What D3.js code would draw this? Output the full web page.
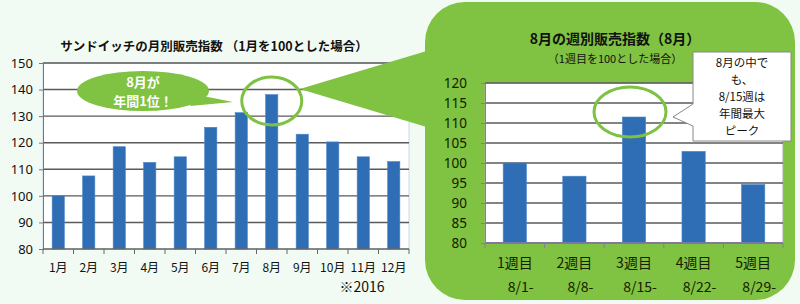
<!DOCTYPE html>
<html><head><meta charset="utf-8">
<script src="https://cdn.jsdelivr.net/npm/d3@7"></script>
<style>
html,body{margin:0;padding:0;background:#f2fbf3;}
svg{display:block;font-family:"Noto Sans CJK JP","Noto Sans",sans-serif;}
</style></head><body>
<svg id="c" width="800" height="304"></svg>
<script>
const months = ["1月","2月","3月","4月","5月","6月","7月","8月","9月","10月","11月","12月"];
const monthValues = [100,107.5,118.5,112.6,114.7,125.8,131.3,138.1,123.2,120.3,114.7,112.9];
const monthTicks = [80,90,100,110,120,130,140,150];
const weeks = ["1週目","2週目","3週目","4週目","5週目"];
const weekDates = ["8/1-","8/8-","8/15-","8/22-","8/29-"];
const weekValues = [100,96.7,111.5,102.9,94.6];
const weekTicks = [80,85,90,95,100,105,110,115,120];

const svg = d3.select("#c");
const green = "#80c241";
const barColor = "#2f6db5";
const grid = "#5a5a5a";

svg.append("rect").attr("width",800).attr("height",304).attr("fill","#f2fbf3");

// ---------- Left chart ----------
const L = {x0:43, x1:409, y0:63, y1:249};
const xL = d3.scaleBand().domain(months).range([L.x0, L.x1]).paddingInner(0.6).paddingOuter(0.3);
const yL = d3.scaleLinear().domain([80,150]).range([L.y1, L.y0]);

svg.append("rect").attr("x",L.x0).attr("y",L.y0).attr("width",L.x1-L.x0).attr("height",L.y1-L.y0)
  .attr("fill","#fff").attr("stroke","#c9d6e6").attr("stroke-width",1);

svg.append("g").selectAll("line").data(monthTicks.slice(1)).join("line")
  .attr("x1",L.x0).attr("x2",L.x1).attr("y1",d=>yL(d)).attr("y2",d=>yL(d))
  .attr("stroke",grid).attr("stroke-width",1.4);

svg.append("g").selectAll("rect").data(months).join("rect")
  .attr("x",d=>xL(d)).attr("width",xL.bandwidth())
  .attr("y",(d,i)=>yL(monthValues[i])).attr("height",(d,i)=>L.y1-yL(monthValues[i]))
  .attr("fill",barColor).attr("stroke","#4a85c8").attr("stroke-width",0.6);

const axL = svg.append("g").attr("transform",`translate(${L.x0},0)`)
  .call(d3.axisLeft(yL).tickValues(monthTicks).tickSize(4).tickPadding(6));
axL.select(".domain").attr("stroke","#777");
axL.selectAll(".tick line").attr("stroke","#777");
axL.selectAll("text").attr("font-size",13).attr("fill","#111").attr("font-family","Noto Sans, sans-serif");

// bottom axis with ticks between categories
svg.append("line").attr("x1",L.x0).attr("x2",L.x1).attr("y1",L.y1).attr("y2",L.y1).attr("stroke","#666").attr("stroke-width",1.4);
svg.append("g").selectAll("line").data(d3.range(months.length+1)).join("line")
  .attr("x1",i=>L.x0+i*(L.x1-L.x0)/months.length).attr("x2",i=>L.x0+i*(L.x1-L.x0)/months.length)
  .attr("y1",L.y1).attr("y2",L.y1+5).attr("stroke","#666");
svg.append("g").selectAll("text").data(months).join("text")
  .attr("x",d=>xL(d)+xL.bandwidth()/2).attr("y",272).attr("text-anchor","middle")
  .attr("font-size",12).attr("fill","#111").text(d=>d);
svg.append("text").attr("x",362).attr("y",292).attr("text-anchor","middle").attr("font-size",14).attr("fill","#111").text("※2016");

svg.append("text").attr("x",214).attr("y",51).attr("text-anchor","middle").attr("font-size",12.5).attr("font-weight","bold").attr("fill","#111")
  .text("サンドイッチの月別販売指数 （1月を100とした場合）");

// ---------- Green panel ----------
const c8x = xL("8月")+xL.bandwidth()/2;
svg.append("path").attr("d",`M${c8x+28},89 L430,50 L430,128 Z`).attr("fill",green);
svg.append("rect").attr("x",425).attr("y",2).attr("width",370).attr("height",298).attr("rx",40).attr("ry",40).attr("fill",green);

// circle around Aug
svg.append("ellipse").attr("cx",c8x).attr("cy",101).attr("rx",30).attr("ry",24)
  .attr("fill","none").attr("stroke","#7dc242").attr("stroke-width",3);

// left callout
svg.append("path").attr("d","M198,95 L233,102 L190,106 Z").attr("fill",green);
svg.append("ellipse").attr("cx",143).attr("cy",91).attr("rx",66).attr("ry",20).attr("fill",green);
svg.append("text").attr("x",143).attr("y",87).attr("text-anchor","middle").attr("font-size",13).attr("font-weight","bold").attr("fill","#fff").text("8月が");
svg.append("text").attr("x",143).attr("y",106).attr("text-anchor","middle").attr("font-size",13).attr("font-weight","bold").attr("fill","#fff").text("年間1位！");

// ---------- Right chart ----------
const R = {x0:485, x1:783, y0:83, y1:243};
const xR = d3.scaleBand().domain(weeks).range([R.x0,R.x1]).paddingInner(0.61).paddingOuter(0.305);
const yR = d3.scaleLinear().domain([80,120]).range([R.y1,R.y0]);

svg.append("rect").attr("x",R.x0).attr("y",R.y0).attr("width",R.x1-R.x0).attr("height",R.y1-R.y0).attr("fill","#fff").attr("stroke","#aaa");
svg.append("g").selectAll("line").data(weekTicks).join("line")
  .attr("x1",R.x0).attr("x2",R.x1).attr("y1",d=>yR(d)).attr("y2",d=>yR(d))
  .attr("stroke",grid).attr("stroke-width",1.4);
svg.append("g").selectAll("rect").data(weeks).join("rect")
  .attr("x",d=>xR(d)).attr("width",xR.bandwidth())
  .attr("y",(d,i)=>yR(weekValues[i])).attr("height",(d,i)=>R.y1-yR(weekValues[i]))
  .attr("fill",barColor).attr("stroke","#4a85c8").attr("stroke-width",0.6);

const axR = svg.append("g").attr("transform",`translate(${R.x0},0)`)
  .call(d3.axisLeft(yR).tickValues(weekTicks).tickSize(4).tickPadding(14));
axR.select(".domain").attr("stroke","#8a7aa8");
axR.selectAll(".tick line").attr("stroke","#8a7aa8");
axR.selectAll("text").attr("font-size",13.5).attr("fill","#142000").attr("font-family","Noto Sans, sans-serif");

svg.append("line").attr("x1",R.x0).attr("x2",R.x1).attr("y1",R.y1).attr("y2",R.y1).attr("stroke","#8a7aa8").attr("stroke-width",1.4);
svg.append("g").selectAll("line").data(d3.range(weeks.length+1)).join("line")
  .attr("x1",i=>R.x0+i*(R.x1-R.x0)/weeks.length).attr("x2",i=>R.x0+i*(R.x1-R.x0)/weeks.length)
  .attr("y1",R.y1).attr("y2",R.y1+5).attr("stroke","#8a7aa8");
svg.append("g").selectAll("text").data(weeks).join("text")
  .attr("x",d=>xR(d)+xR.bandwidth()/2).attr("y",268).attr("text-anchor","middle")
  .attr("font-size",14).attr("fill","#142000").text(d=>d);
svg.append("g").selectAll("text").data(weeks).join("text")
  .attr("x",(d,i)=>xR(d)+xR.bandwidth()/2+6).attr("y",292).attr("text-anchor","middle")
  .attr("font-size",14).attr("fill","#142000").text((d,i)=>weekDates[i]);

svg.append("text").attr("x",615).attr("y",44).attr("text-anchor","middle").attr("font-size",14).attr("font-weight","bold").attr("fill","#111").text("8月の週別販売指数（8月）");
svg.append("text").attr("x",615).attr("y",63).attr("text-anchor","middle").attr("font-size",11).attr("fill","#111").text("（1週目を100とした場合）");

// circle around week 3
const c3x = xR("3週目")+xR.bandwidth()/2;
svg.append("ellipse").attr("cx",c3x-4).attr("cy",112).attr("rx",36).attr("ry",25)
  .attr("fill","none").attr("stroke","#7dc242").attr("stroke-width",3);

// callout box
svg.append("path").attr("d","M693,52 L791,52 L791,141 L693,141 L693,126 L673,117 L693,104 Z")
  .attr("fill","#fff").attr("stroke","#888").attr("stroke-width",1);
const lines = ["8月の中で","も、","8/15週は","年間最大","ピーク"];
svg.append("g").selectAll("text").data(lines).join("text")
  .attr("x",742).attr("y",(d,i)=>67+i*17).attr("text-anchor","middle").attr("font-size",11.5).attr("fill","#111").text(d=>d);
</script></body></html>
